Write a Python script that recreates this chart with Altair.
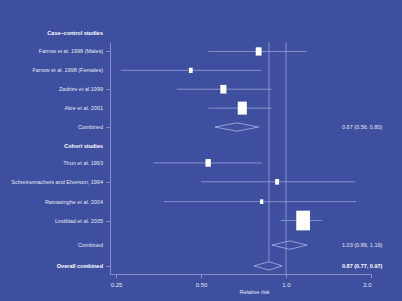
import altair as alt
import pandas as pd

# ---- data ----
row_labels = ["Case\u2013control studies", "Farrow et al. 1998 (Males)", "Farrow et al. 1998 (Females)",
              "Zadrize et al.1999", "Akre et al. 2001", "Combined", "Cohort studies",
              "Thun et al. 1993", "Schreinemachers and Elverson, 1994", "Ratnasinghe et al. 2004",
              "Lindblad et al. 2005", "Combined", "Overall combined"]
row_kind = ["header", "study", "study", "study", "study", "combined", "header",
            "study", "study", "study", "study", "combined", "overall"]
row_pos = [0, 1, 2, 3, 4, 5, 6, 6.9, 7.9, 8.95, 9.95, 11.25, 12.35]

study_rows = [1, 2, 3, 4, 6.9, 7.9, 8.95, 9.95]
study_rr = [0.80, 0.46, 0.60, 0.70, 0.53, 0.93, 0.82, 1.15]
study_lo = [0.53, 0.26, 0.41, 0.53, 0.34, 0.50, 0.37, 0.96]
study_hi = [1.18, 0.82, 0.89, 0.89, 0.82, 1.76, 1.77, 1.34]
study_weight = [8.2, 3.3, 9.0, 20.0, 7.0, 3.8, 2.6, 46.0]

pooled_rows = [5, 11.25, 12.35]
pooled_rr = [0.67, 1.03, 0.87]
pooled_lo = [0.56, 0.89, 0.77]
pooled_hi = [0.80, 1.19, 0.97]
pooled_kind = ["combined", "combined", "overall"]

x_ticks = [0.25, 0.5, 1.0, 2.0]
x_tick_labels = ["0.25", "0.50", "1.0", "2.0"]

# ---- styling ----
BG = "#3e4f9f"
LINE = "#8590cb"
TXT = "#e4e7f6"
FONT = "Liberation Sans"
DH = 0.22  # diamond half height in row units
Y_DOMAIN = [0.5, 12.78]
X_DOMAIN = [0.238, 2.0]

xscale = alt.Scale(type="log", domain=X_DOMAIN, nice=False)
yscale = alt.Scale(domain=Y_DOMAIN, reverse=True, nice=False, zero=False)

labels_df = pd.DataFrame({"label": row_labels, "kind": row_kind, "row": row_pos})
studies = pd.DataFrame({"row": study_rows, "rr": study_rr, "lo": study_lo,
                        "hi": study_hi, "w": study_weight})
pooled = pd.DataFrame({"row": pooled_rows, "rr": pooled_rr, "lo": pooled_lo,
                       "hi": pooled_hi, "kind": pooled_kind})
pooled["txt"] = [f"{r:.2f} ({l:.2f}, {h:.2f})" for r, l, h in zip(pooled_rr, pooled_lo, pooled_hi)]

# diamond vertices
dia = []
for i, (r, e, l, h) in enumerate(zip(pooled_rows, pooled_rr, pooled_lo, pooled_hi)):
    pts = [(l, r), (e, r - DH), (h, r), (e, r + DH), (l, r)]
    for j, (xx, yy) in enumerate(pts):
        dia.append({"g": i, "o": j, "x": xx, "y": yy})
dia_df = pd.DataFrame(dia)

overall_rr = pooled_rr[-1]
ref_df = pd.DataFrame({"x": [overall_rr], "y1": [Y_DOMAIN[0]], "y2": [pooled_rows[-1] - DH]})
null_df = pd.DataFrame({"x": [1.0]})

label_expr = " : ".join([f"datum.value == {v} ? '{t}'" for v, t in zip(x_ticks, x_tick_labels)]) + " : ''"

x_axis = alt.Axis(values=x_ticks, labelExpr=label_expr, title="Relative risk", grid=False,
                  domainColor=LINE, tickColor=LINE, tickSize=4, labelColor=TXT,
                  labelFontSize=6, labelFont=FONT, labelPadding=3, titleColor=TXT,
                  titleFontSize=5.5, titleFont=FONT, titleFontWeight="normal",
                  titlePadding=2, titleX=144)
y_axis = alt.Axis(values=[r for r, k in zip(row_pos, row_kind) if k != "header"],
                  labels=False, title=None, grid=False, domainColor=LINE,
                  tickColor=LINE, tickSize=4)

null_line = alt.Chart(null_df).mark_rule(color=LINE, strokeWidth=1).encode(
    x=alt.X("x:Q", scale=xscale, axis=x_axis))

ref_line = alt.Chart(ref_df).mark_rule(color=LINE, strokeWidth=1).encode(
    x=alt.X("x:Q", scale=xscale),
    y=alt.Y("y1:Q", scale=yscale, axis=y_axis),
    y2="y2:Q")

ci = alt.Chart(studies).mark_rule(color=LINE, strokeWidth=1).encode(
    x=alt.X("lo:Q", scale=xscale),
    x2="hi:Q",
    y=alt.Y("row:Q", scale=yscale))

boxes = alt.Chart(studies).mark_point(
    shape="M-0.7,-1H0.7V1H-0.7Z", filled=True, color="white", opacity=1, strokeWidth=0
).encode(
    x=alt.X("rr:Q", scale=xscale),
    y=alt.Y("row:Q", scale=yscale),
    size=alt.Size("w:Q", scale=alt.Scale(domain=[0, 46], range=[0, 388]), legend=None))

diamonds = alt.Chart(dia_df).mark_line(color="#aab2e0", strokeWidth=0.8).encode(
    x=alt.X("x:Q", scale=xscale),
    y=alt.Y("y:Q", scale=yscale),
    detail="g:N",
    order="o:Q")

BOLD_TEST = "datum.kind == 'header' || datum.kind == 'overall'"

row_text_plain = alt.Chart(labels_df).transform_filter(f"!({BOLD_TEST})").mark_text(
    align="right", baseline="middle", font=FONT, fontSize=5.5, color=TXT
).encode(x=alt.value(-7), y=alt.Y("row:Q", scale=yscale), text="label:N")

row_text_bold = alt.Chart(labels_df).transform_filter(BOLD_TEST).mark_text(
    align="right", baseline="middle", font=FONT, fontSize=5.5, color="white", fontWeight="bold"
).encode(x=alt.value(-7), y=alt.Y("row:Q", scale=yscale), text="label:N")

est_plain = alt.Chart(pooled).transform_filter("datum.kind != 'overall'").mark_text(
    align="left", baseline="middle", font=FONT, fontSize=5.5, color=TXT
).encode(x=alt.value(232), y=alt.Y("row:Q", scale=yscale), text="txt:N")

est_bold = alt.Chart(pooled).transform_filter("datum.kind == 'overall'").mark_text(
    align="left", baseline="middle", font=FONT, fontSize=5.5, color="white", fontWeight="bold"
).encode(x=alt.value(232), y=alt.Y("row:Q", scale=yscale), text="txt:N")

chart = alt.layer(null_line, ref_line, ci, diamonds, boxes,
                  row_text_plain, row_text_bold, est_plain, est_bold).properties(
    width=261, height=232, background=BG,
    padding={"left": 110, "top": 42, "right": 31, "bottom": 27},
    autosize=alt.AutoSizeParams(type="none"),
).configure_view(stroke=None)

chart.save("out.html", embed_options={"renderer": "svg", "actions": False})
